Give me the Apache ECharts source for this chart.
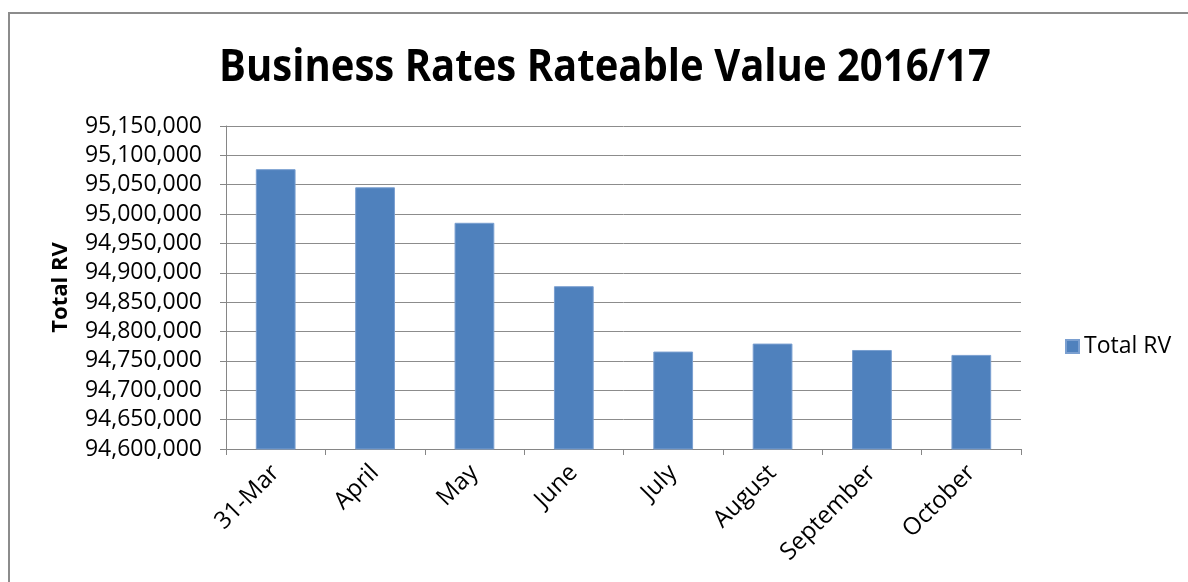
<!DOCTYPE html>
<html>
<head>
<meta charset="utf-8">
<script src="https://cdn.jsdelivr.net/npm/echarts@6/dist/echarts.min.js"></script>
<style>
  html, body { margin: 0; padding: 0; background: #fff; }
  #chart { width: 1188px; height: 582px; }
</style>
</head>
<body>
<div id="chart"></div>
<script>
// values
const categories = ["31-Mar", "April", "May", "June", "July", "August", "September", "October"];
const totalRV = [95076500, 95045600, 94985200, 94877200, 94765900, 94779500, 94768600, 94760200];
const seriesName = "Total RV";
const titleText = "Business Rates Rateable Value 2016/17";

const font = '"Open Sans", sans-serif';

const chart = echarts.init(document.getElementById("chart"), null, { renderer: "canvas" });

chart.setOption({
  backgroundColor: "#fff",
  animation: false,
  textStyle: { fontFamily: font },
  graphic: [
    {
      type: "rect",
      shape: { x: 9, y: 13, width: 1300, height: 700 },
      style: { fill: "none", stroke: "#8c8c8c", lineWidth: 2 },
      silent: true,
    },
    // title is condensed horizontally to look like the narrow original
    {
      type: "text",
      x: 605,
      y: 68,
      scaleX: 0.89,
      silent: true,
      style: {
        text: titleText,
        font: 'bold 45px "Open Sans", sans-serif',
        fill: "#000",
        align: "center",
        verticalAlign: "middle",
      },
    },
  ],
  legend: {
    data: [seriesName],
    left: 1060,
    top: 330,
    icon: "rect",
    itemWidth: 13,
    itemHeight: 13,
    itemGap: 7,
    textStyle: { fontFamily: font, fontSize: 23, color: "#000" },
  },
  grid: {
    left: 226,
    right: 167,
    top: 126,
    bottom: 133,
  },
  xAxis: {
    type: "category",
    data: categories,
    axisLine: { lineStyle: { color: "#868686", width: 1 } },
    axisTick: { show: true, length: 6, lineStyle: { color: "#868686" } },
    axisLabel: {
      rotate: 45,
      margin: 20,
      fontFamily: font,
      fontSize: 24,
      color: "#000",
    },
  },
  yAxis: {
    type: "value",
    min: 94600000,
    max: 95150000,
    interval: 50000,
    name: "Total RV",
    nameLocation: "middle",
    nameGap: 154,
    nameTextStyle: { fontFamily: font, fontWeight: "bold", fontSize: 22, color: "#000" },
    axisLine: { show: true, lineStyle: { color: "#868686", width: 1 } },
    axisTick: { show: true, length: 6, lineStyle: { color: "#868686" } },
    axisLabel: {
      margin: 24,
      fontFamily: font,
      fontSize: 23,
      color: "#000",
      formatter: (v) => v.toLocaleString("en-US"),
    },
    splitLine: { show: true, lineStyle: { color: "#8c8c8c", width: 1 } },
  },
  series: [
    {
      name: seriesName,
      type: "bar",
      data: totalRV,
      barWidth: "40%",
      itemStyle: { color: "#4f81bd", borderColor: "#7a9fd0", borderWidth: 1 },
    },
  ],
});
</script>
</body>
</html>
